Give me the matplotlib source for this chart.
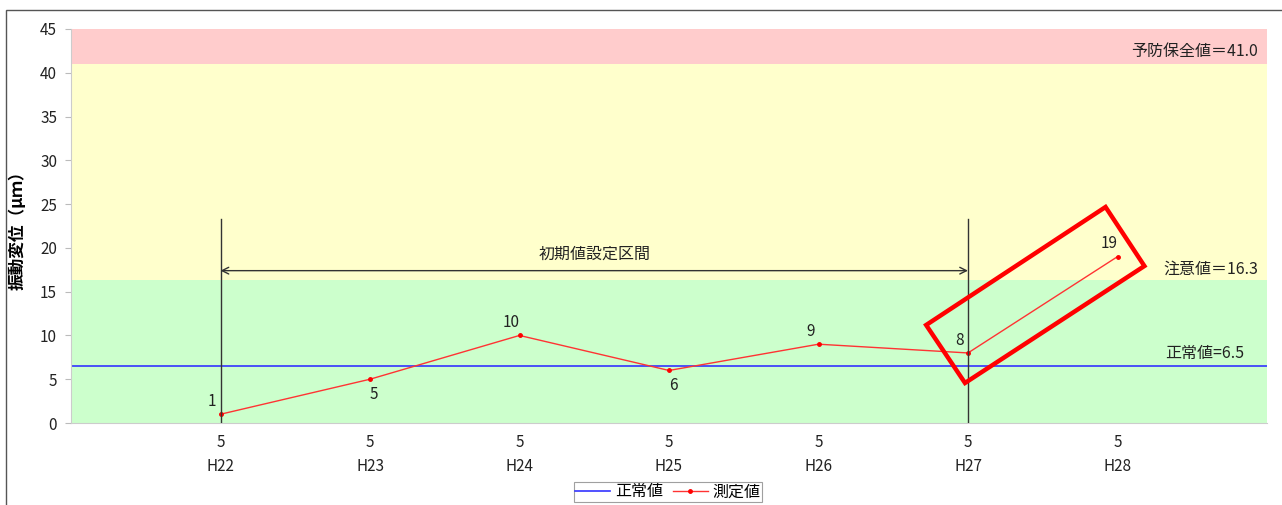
import matplotlib
matplotlib.use("Agg")
import matplotlib.pyplot as plt
from matplotlib.patches import Polygon, Rectangle

plt.rcParams['font.family'] = ['Noto Sans CJK JP', 'DejaVu Sans']

categories = ["H22", "H23", "H24", "H25", "H26", "H27", "H28"]
months = ["5", "5", "5", "5", "5", "5", "5"]
measured = [1, 5, 10, 6, 9, 8, 19]
normal_value = 6.5
caution_value = 16.3
preventive_value = 41.0
label_pos = ["above", "below", "above", "below", "above", "above", "above"]

fig = plt.figure(figsize=(12.82, 5.05), dpi=100)
ax = fig.add_axes([71/1282, 1-423/505, (1267-71)/1282, (423-29)/505])

x = list(range(len(categories)))
ax.set_xlim(-1, 7)
ax.set_ylim(0, 45)

ax.axhspan(0, caution_value, color="#CCFFCC", zorder=0, lw=0)
ax.axhspan(caution_value, preventive_value, color="#FFFFCC", zorder=0, lw=0)
ax.axhspan(preventive_value, 45, color="#FFCCCC", zorder=0, lw=0)

ax.axhline(normal_value, color="#3333FF", lw=1.2, zorder=2, label="正常値")
ax.plot(x, measured, color="#FF3333", lw=1.0, marker="o", markersize=2.5,
        markerfacecolor="#FF0000", markeredgecolor="#FF0000", zorder=3, label="測定値")

for xi, v, pos in zip(x, measured, label_pos):
    if pos == "above":
        ax.annotate(str(v), (xi, v), xytext=(-6, 3), textcoords="offset points",
                    ha="center", va="bottom", fontsize=11, color="#222222")
    else:
        ax.annotate(str(v), (xi, v), xytext=(3, -5), textcoords="offset points",
                    ha="center", va="top", fontsize=11, color="#222222")

# vertical markers of initial setting interval
for xi in (0, 5):
    ax.plot([xi, xi], [0, 23.3], color="#333333", lw=1.0, zorder=4)
ax.annotate("", xy=(0, 17.4), xytext=(5, 17.4),
            arrowprops=dict(arrowstyle="<->", color="#333333", lw=1.0,
                            shrinkA=0, shrinkB=0, mutation_scale=12), zorder=4)
ax.text(2.5, 19.3, "初期値設定区間", ha="center", va="center", fontsize=11.5, color="#222222")

# threshold labels
ax.text(6.94, 42.4, "予防保全値＝41.0", ha="right", va="center", fontsize=11.5, color="#222222")
ax.text(6.94, 17.6, "注意値＝16.3", ha="right", va="center", fontsize=11.5, color="#222222")
ax.text(6.85, 7.9, "正常値=6.5", ha="right", va="center", fontsize=11.5, color="#222222")

# highlight box
box = Polygon([(5.92, 24.67), (6.18, 17.93), (4.98, 4.57), (4.72, 11.19)],
              closed=True, fill=False, edgecolor="#FF0000", lw=3.2, zorder=5,
              joinstyle="miter")
ax.add_patch(box)

ax.set_xticks(x)
ax.set_xticklabels([f"{m}\n{c}" for m, c in zip(months, categories)],
                   fontsize=11, color="#222222", linespacing=1.55)
ax.tick_params(axis="x", length=0, pad=8)
ax.set_yticks(range(0, 46, 5))
ax.tick_params(axis="y", length=4, color="#BBBBBB", labelsize=11, labelcolor="#222222", pad=6)
for s in ("top", "right"):
    ax.spines[s].set_visible(False)
for s in ("left", "bottom"):
    ax.spines[s].set_color("#CCCCCC")

ax.set_ylabel("振動変位（μｍ）", fontsize=12, fontweight="bold")
ax.yaxis.set_label_coords(-0.037, 0.5)

leg = fig.legend(loc="upper center", bbox_to_anchor=(0.521, 0.046), ncol=2,
                 fontsize=11.5, frameon=True, fancybox=False, edgecolor="#888888",
                 handlelength=2.2, columnspacing=0.6, handletextpad=0.3,
                 borderpad=0.1, borderaxespad=0.0)
leg.get_frame().set_linewidth(0.8)

# outer chart frame
fig.patches.append(Rectangle((6/1282, -0.1), 1.2, 1 - 10/505 + 0.1,
                             transform=fig.transFigure, fill=False,
                             edgecolor="#555555", lw=1.0))

fig.savefig("out.png", dpi=100)
